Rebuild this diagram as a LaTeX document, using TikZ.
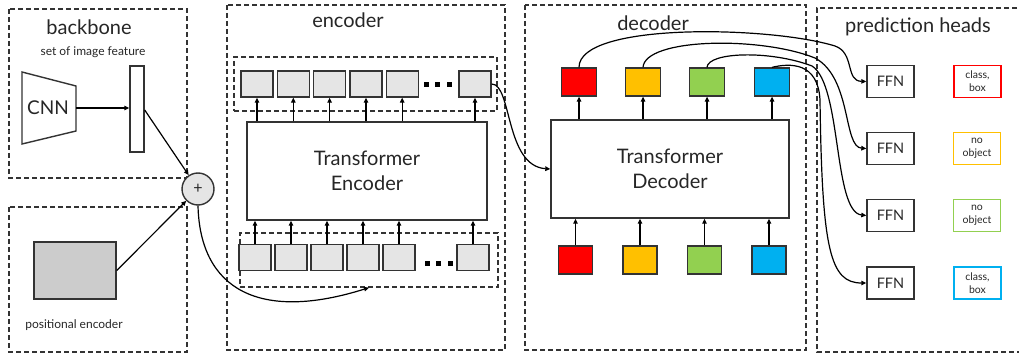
\documentclass[tikz,border=0pt]{standalone}
\usepackage{fontspec}
\setmainfont{Lato}
\usetikzlibrary{arrows.meta}
\definecolor{qred}{HTML}{FF0000}
\definecolor{qyellow}{HTML}{FFC000}
\definecolor{qgreen}{HTML}{92D050}
\definecolor{qblue}{HTML}{00B0F0}
\definecolor{edge}{HTML}{333333}
\definecolor{ink}{HTML}{262626}
\tikzset{
  panel/.style={draw=edge, dash pattern=on 5pt off 3pt, line width=1.3pt},
  groupbox/.style={draw=edge, dash pattern=on 5pt off 3pt, line width=1.3pt, inner sep=0pt},
  tok/.style={draw=edge, fill=black!10, line width=1.4pt, minimum width=32pt, minimum height=26pt, inner sep=0pt},
  dotsq/.style={fill=black, minimum size=5pt, inner sep=0pt},
  query/.style={draw=edge, line width=1.3pt, minimum width=35pt, minimum height=28pt, inner sep=0pt},
  bigbox/.style={draw=edge, line width=1.4pt, align=center, inner sep=0pt, text=ink, font=\fontsize{20}{25}\selectfont},
  ffn/.style={draw=edge, line width=1.4pt, minimum width=47pt, minimum height=32pt, inner sep=0pt, text=ink, font=\fontsize{14.5}{16}\selectfont},
  outbox/.style={line width=1.3pt, minimum width=47pt, minimum height=32pt, inner sep=0pt, align=center, text=ink, font=\fontsize{10.5}{13}\selectfont},
  title/.style={text=ink, font=\fontsize{20}{24}\selectfont},
  small/.style={text=ink, font=\fontsize{12}{14}\selectfont},
  arr/.style={-{Triangle[length=5pt,width=4.5pt]}, line width=1.2pt},
}
\begin{document}
\begin{tikzpicture}[x=1pt,y=-1pt]
\useasboundingbox (0,0) rectangle (1019,355);

% ---------- backbone ----------
\draw[panel] (9,9) rectangle (187,178);
\node[title] (bbt) at (89,27) {backbone};
\node[small] (sif) at (93,52) {set of image feature};
\draw[line width=1.4pt, draw=edge] (22,72) -- (76,86) -- (76,131) -- (22,144) -- cycle;
\node[text=ink, font=\fontsize{19}{22}\selectfont] (cnn) at (48,108) {CNN};
\coordinate (cnnR) at (76,108);
\node[draw=edge, line width=1.4pt, minimum width=14pt, minimum height=86pt, inner sep=0pt] (feat) at (137,109) {};
\draw[arr] (cnnR) -- (feat.west |- cnnR);

% ---------- positional encoder ----------
\draw[panel] (9,207) rectangle (187,352);
\node[draw=edge, fill=black!20, line width=1.4pt, minimum width=82pt, minimum height=57pt, inner sep=0pt] (pos) at (75,270.5) {};
\node[small] (post) at (74,325) {positional encoder};

% ---------- sum ----------
\node[circle, draw=edge, fill=black!10, line width=1.4pt, minimum size=32pt, inner sep=0pt, text=ink, font=\fontsize{16}{16}\selectfont] (plus) at (198,189) {+};
\draw[arr] ([yshift=-1pt]feat.east) -- (plus);
\draw[arr] (pos.east) -- (plus);

% ---------- encoder ----------
\draw[panel] (227,5) rectangle (505,350);
\node[title] (enct) at (348,20) {encoder};
\node[groupbox, minimum width=263pt, minimum height=54pt] (outgrp) at (365.5,84) {};
\node[groupbox, minimum width=258pt, minimum height=54pt] (ingrp) at (369,260) {};
\node[bigbox, minimum width=240pt, minimum height=98pt] (enc) at (367,171) {Transformer\\Encoder};

\foreach \i/\x in {1/257,2/293.3,3/329.6,4/366,5/402.2,6/475}{
  \node[tok] (t\i) at (\x,84) {};
  \draw[arr] (t\i.south |- enc.north) -- (t\i.south);
}
\foreach \i/\x in {1/255,2/291,3/327,4/363,5/399,6/473}{
  \node[tok] (b\i) at (\x,257.5) {};
  \draw[arr] (b\i.north) -- (b\i.north |- enc.south);
}
\foreach \i/\x in {1/426,2/437.5,3/449}{
  \node[dotsq] (td\i) at (\x,85) {};
  \node[dotsq] (bd\i) at (\x+1,263) {};
}

\draw[arr] (plus.south) .. controls (200,290) and (260,322) .. (ingrp.south);

% ---------- decoder ----------
\draw[panel] (525,5) rectangle (806,350);
\node[title] (dect) at (653,23) {decoder};
\node[bigbox, minimum width=238pt, minimum height=98pt] (dec) at (670,169) {Transformer\\Decoder};

\foreach \i/\x/\c in {1/579/qred,2/643/qyellow,3/707/qgreen,4/772/qblue}{
  \node[query, fill=\c] (q\i) at (\x,82) {};
  \draw[arr] (q\i.south |- dec.north) -- (q\i.south);
}
\foreach \i/\x/\c in {1/575.5/qred,2/640/qyellow,3/704.5/qgreen,4/769/qblue}{
  \node[query, fill=\c, minimum width=34pt] (p\i) at (\x,260) {};
  \draw[arr] (p\i.north) -- (p\i.north |- dec.south);
}

\draw[arr] (t6.east) .. controls (512,84) and (505,166) .. (dec.west);

% ---------- prediction heads ----------
\draw[panel] (1025,8) -- (817,8) -- (817,352) -- (1025,352);
\node[title] (pht) at (918,27) {prediction heads};

\foreach \i/\y in {1/81.5,2/148.5,3/215.5,4/283}{
  \node[ffn] (f\i) at (890.5,\y) {FFN};
}
\node[outbox, draw=qred]    (o1) at (977.5,81.5) {class,\\box};
\node[outbox, draw=qyellow] (o2) at (977,148.5)  {no\\object};
\node[outbox, draw=qgreen]  (o3) at (977,215.5)  {no\\object};
\node[outbox, draw=qblue]   (o4) at (977.5,283)  {class,\\box};

\draw[arr] (q1.north) .. controls (579,22) and (770,26) .. (835,46)
  .. controls (855,53) and (845,81) .. (f1.west);
\draw[arr] (q2.north) .. controls (645,38) and (760,36) .. (815,58)
  .. controls (852,78) and (843,147) .. (f2.west);
\draw[arr] (q3.north) .. controls (708,52) and (770,50) .. (812,66)
  .. controls (842,85) and (833,212) .. (f3.west);
\draw[arr] (q4.north) .. controls (790,63) and (818,62) .. (820,100)
  .. controls (822,250) and (830,283) .. (f4.west);
\end{tikzpicture}
\end{document}
